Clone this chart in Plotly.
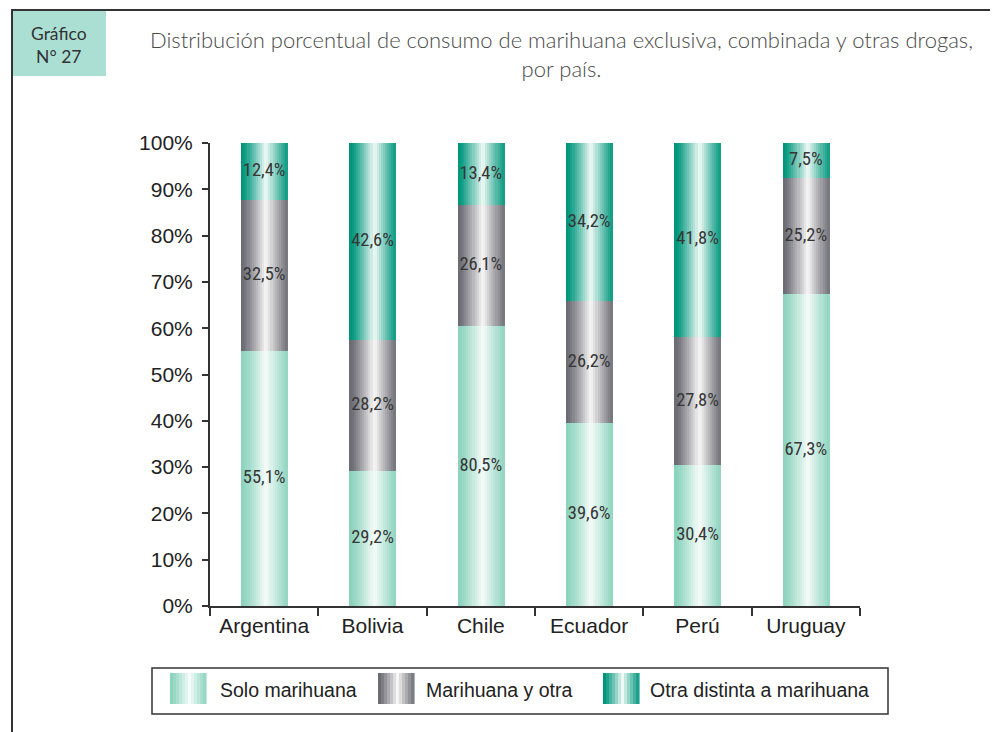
import plotly.graph_objects as go

# ---------------- data ----------------
countries = ["Argentina", "Bolivia", "Chile", "Ecuador", "Perú", "Uruguay"]
series_names = ["Solo marihuana", "Marihuana y otra", "Otra distinta a marihuana"]
solo = [55.1, 29.2, 60.5, 39.6, 30.4, 67.3]          # drawn heights
solo_labels = [55.1, 29.2, 80.5, 39.6, 30.4, 67.3]   # printed values (as in source)
combinada = [32.5, 28.2, 26.1, 26.2, 27.8, 25.2]
otra = [12.4, 42.6, 13.4, 34.2, 41.8, 7.5]
y_ticks = [0, 10, 20, 30, 40, 50, 60, 70, 80, 90, 100]

# ---------------- style ----------------
OFF = 8  # page body margin
W, H = 998 - OFF, 732 - OFF
L, T = 210 - OFF, 143 - OFF
R, B = 138, 126
PW, PH = W - L - R, H - T - B

edge_colors = [(140, 211, 189), (108, 108, 116), (0, 150, 124)]
center_colors = [(246, 252, 250), (248, 248, 248), (240, 250, 246)]
N = 22
BW = 0.425


def grad_color(k, edge, center, n=N):
    t = (k + 0.5) / n
    d = abs(t - 0.54) / 0.5
    w = max(0.0, 1 - d) ** 1.15
    c = [round(e + (cc - e) * w) for e, cc in zip(edge, center)]
    return "rgb(%d,%d,%d)" % tuple(c)


def px_x(p):
    return (p - OFF - L) / PW


def px_y(p):
    return (H - B - (p - OFF)) / PH


fig = go.Figure()

values = [solo, combinada, otra]
bases = [[0] * 6,
         solo[:],
         [a + b for a, b in zip(solo, combinada)]]

for s in range(3):
    for k in range(N):
        fig.add_trace(go.Bar(
            x=countries, y=values[s], base=bases[s],
            width=BW / N * 1.35,
            offset=-BW / 2 + k * BW / N,
            marker=dict(color=grad_color(k, edge_colors[s], center_colors[s]),
                        line=dict(width=0)),
            showlegend=False, hoverinfo="skip"))

label_sets = [solo_labels, combinada, otra]
label_font = dict(family="Roboto Condensed, DejaVu Sans Condensed, sans-serif",
                  size=18.5, color="#363636", weight=400)
for s in range(3):
    fig.add_trace(go.Scatter(
        x=countries,
        y=[b + v / 2 for b, v in zip(bases[s], values[s])],
        text=[("%.1f%%" % v).replace(".", ",") for v in label_sets[s]],
        mode="text", textfont=label_font, textposition="middle center",
        showlegend=False, hoverinfo="skip"))

shapes = []
annotations = []

# page frame
shapes.append(dict(type="line", xref="paper", yref="paper",
                   x0=px_x(11), x1=px_x(998), y0=px_y(10), y1=px_y(10),
                   line=dict(color="#333333", width=2)))
shapes.append(dict(type="line", xref="paper", yref="paper",
                   x0=px_x(12), x1=px_x(12), y0=px_y(10), y1=px_y(732),
                   line=dict(color="#333333", width=2)))
# title box
shapes.append(dict(type="rect", xref="paper", yref="paper",
                   x0=px_x(13), x1=px_x(106), y0=px_y(11), y1=px_y(76),
                   fillcolor="#abdfd3", line=dict(width=0), layer="below"))
annotations.append(dict(xref="paper", yref="paper", x=px_x(59), y=px_y(45),
                        text="Gráfico<br>N° 27", showarrow=False,
                        font=dict(family="Lato, sans-serif", size=17.5, color="#333333"),
                        align="center", xanchor="center", yanchor="middle"))
annotations.append(dict(xref="paper", yref="paper", x=px_x(561), y=px_y(54),
                        text="Distribución porcentual de consumo de marihuana exclusiva, combinada y otras drogas,<br>por país.",
                        showarrow=False,
                        font=dict(family="Lato, sans-serif", size=22, color="#4a4a4a", weight=300),
                        align="center", xanchor="center", yanchor="middle"))

# legend (custom, gradient swatches)
shapes.append(dict(type="rect", xref="paper", yref="paper",
                   x0=px_x(152), x1=px_x(888), y0=px_y(668), y1=px_y(714),
                   fillcolor="white", line=dict(color="#333333", width=1.5)))
sw_x = [170, 378, 603]
tx_x = [218, 424, 648]
sw_w = 36
M = 12
for s in range(3):
    for k in range(M):
        x0 = sw_x[s] + k * sw_w / M
        shapes.append(dict(type="rect", xref="paper", yref="paper",
                           x0=px_x(x0), x1=px_x(x0 + sw_w / M + 0.6),
                           y0=px_y(673), y1=px_y(704),
                           fillcolor=grad_color(k, edge_colors[s], center_colors[s], M),
                           line=dict(width=0)))
    annotations.append(dict(xref="paper", yref="paper", x=px_x(tx_x[s]), y=px_y(690),
                            text=series_names[s], showarrow=False,
                            font=dict(family="Liberation Sans, Arial, sans-serif", size=19.5,
                                      color="#222222"),
                            xanchor="left", yanchor="middle"))

fig.update_layout(
    width=W, height=H,
    margin=dict(l=L, r=R, t=T, b=B, pad=0),
    paper_bgcolor="white", plot_bgcolor="white",
    barmode="overlay", bargap=0,
    showlegend=False,
    shapes=shapes, annotations=annotations,
    font=dict(family="Liberation Sans, Arial, sans-serif", color="#222222"),
)
fig.update_xaxes(
    type="category", categoryorder="array", categoryarray=countries,
    range=[-0.5, 5.5], showgrid=False, zeroline=False,
    showline=True, linecolor="#333333", linewidth=2,
    ticks="outside", tickson="boundaries", ticklen=8, tickwidth=2, tickcolor="#333333",
    tickfont=dict(size=21, color="#222222"),
)
fig.update_yaxes(
    range=[0, 100], tickvals=y_ticks, ticktext=["%d%%" % v for v in y_ticks],
    showgrid=False, zeroline=False,
    showline=True, linecolor="#333333", linewidth=2,
    ticks="outside", ticklen=6, tickwidth=2, tickcolor="#333333",
    tickfont=dict(size=21, color="#222222"), ticklabelstandoff=5,
)

fig.write_html("out.html")
